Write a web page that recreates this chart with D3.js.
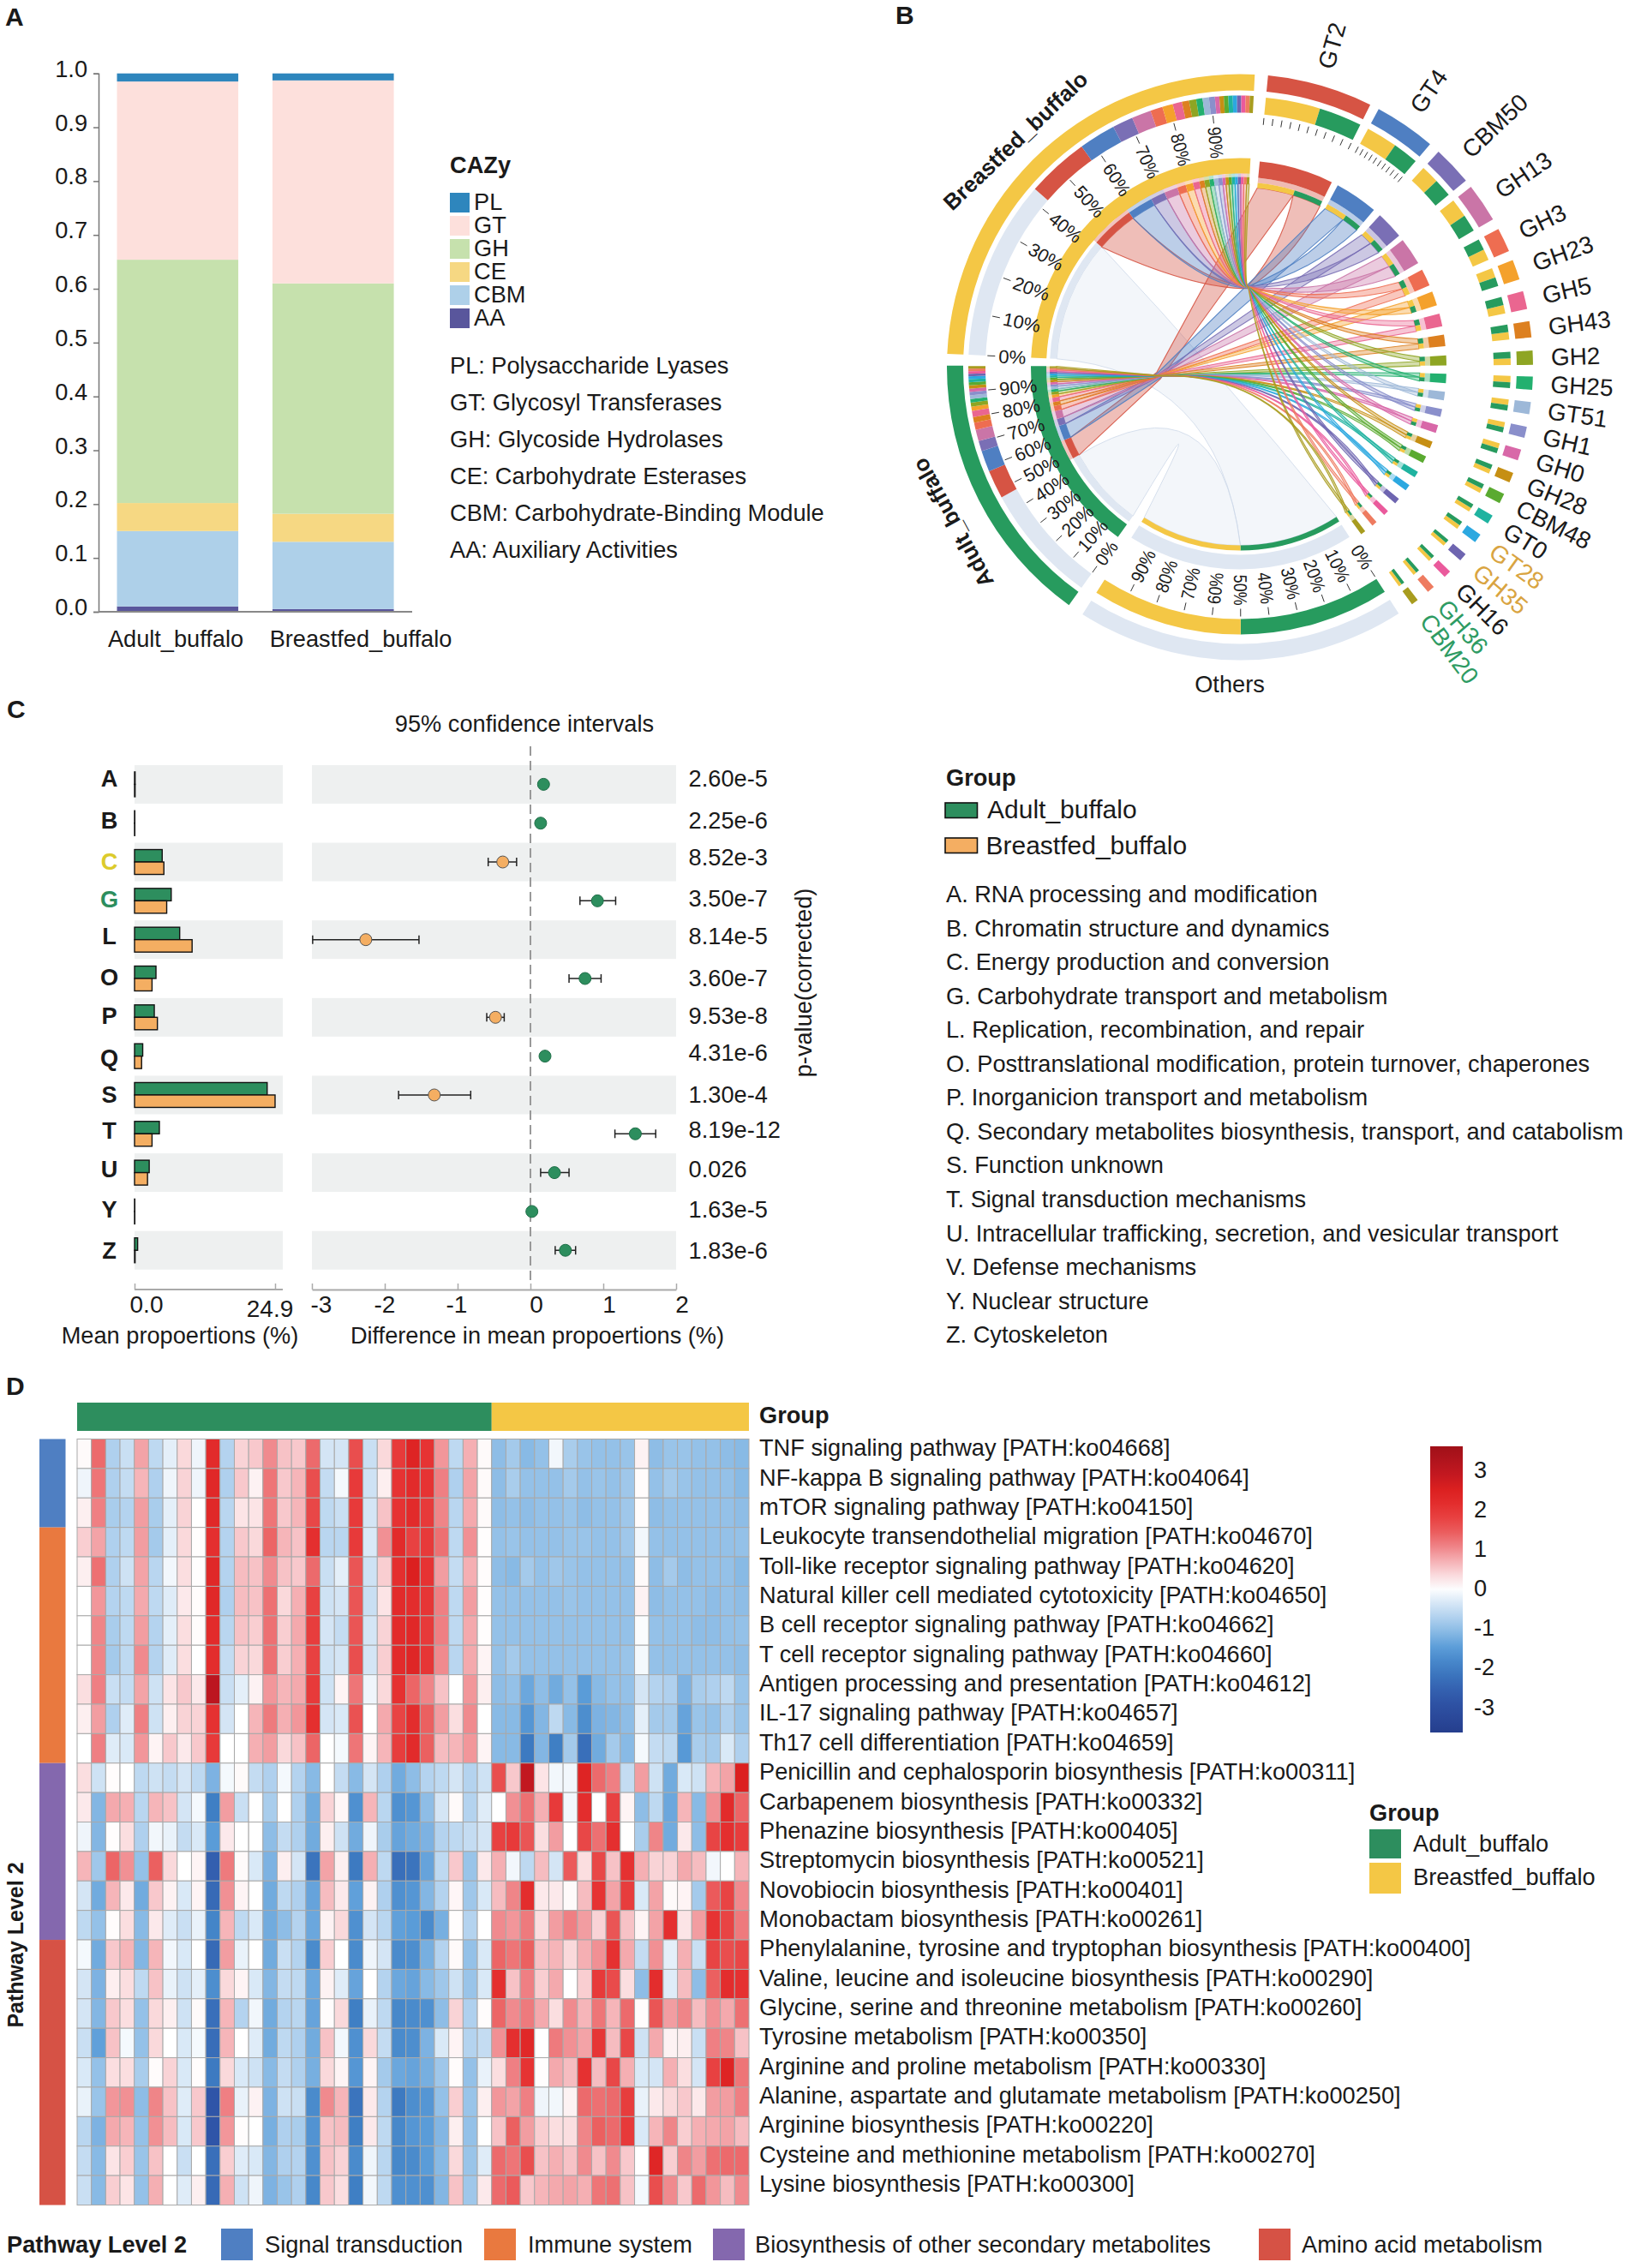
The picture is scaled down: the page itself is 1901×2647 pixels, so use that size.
<!DOCTYPE html>
<html><head><meta charset="utf-8">
<script src="https://cdn.jsdelivr.net/npm/d3@7"></script>
<style>
html,body{margin:0;padding:0;background:#fff}
svg{display:block}
text{font-family:"Liberation Sans",Arial,sans-serif;fill:#1a1a1a}
</style></head><body><svg id="c" width="1901" height="2647" viewBox="0 0 1901 2647"></svg>
<script>
// ---------- Panel A data
const stackGroups = ["Adult_buffalo","Breastfed_buffalo"];
const cazyClasses = ["AA","CBM","CE","GH","GT","PL"];
const cazyColours = ["#59569c","#aed0e9","#f6d883","#c6e1ad","#fde0dc","#2e86bd"];
const cazyAdult = [0.010,0.140,0.052,0.452,0.331,0.015];
const cazyBreastfed = [0.005,0.125,0.052,0.428,0.377,0.013];
const cazyLegend = ["PL","GT","GH","CE","CBM","AA"];
const cazyDefinitions = ["PL: Polysaccharide Lyases","GT: Glycosyl Transferases","GH: Glycoside Hydrolases","CE: Carbohydrate Esterases","CBM: Carbohydrate-Binding Module","AA: Auxiliary Activities"];
const yTicksA = [0,0.1,0.2,0.3,0.4,0.5,0.6,0.7,0.8,0.9,1.0];

// ---------- Panel B data
const genes = ["GT2","GT4","CBM50","GH13","GH3","GH23","GH5","GH43","GH2","GH25","GT51","GH1","GH0","GH28","CBM48","GT0","GT28","GH35","GH16","GH36","CBM20"];
const geneColours = ["#d65444","#4f7fc2","#7a6fb5","#ca75a7","#ee6d51","#f4a12c","#ea6690","#dd8020","#8ea523","#23b06f","#9db8d8","#8a8fcb","#d868a8","#c68f13","#5aaa30","#1fb3a0","#2ca8e0","#6e65b0","#ea5a9c","#ee7b60","#a89c1f"];
const geneSize = [20.9,12.2,7.8,7.7,4.8,4.0,3.6,3.2,2.8,2.6,2.4,2.2,2.2,2.0,2.0,1.8,1.8,1.6,1.5,1.5,1.4];
const geneGap  = [1.85,2.2,1.55,2.15,1.9,2.4,2.4,2.6,2.3,2.4,2.5,2.4,2.6,2.5,2.8,2.6,3.0,2.95,2.9,2.55];
const geneYellow = [.56,.55,.5,.52,.5,.52,.5,.5,.5,.52,.5,.5,.5,.5,.5,.5,.5,.5,.5,.5,.5];
const geneGreenFirst = ["GH3","GH5","GH43","GH2","GH28","CBM48","GT0","GT28","GH35","GH16","GH36","CBM20"];
const breastfedOthers = 42.5;
const breastfedShare = [14.8,8.7,4.9,4.6,2.9,2.5,2.2,1.7,1.7,1.5,1.5,1.4,1.05,1.05,1.05,1.05,1.0,1.0,1.0,1.0,0.9];
const adultOthers = 47;
const adultShare = [11.2,8.3,4.0,4.5,2.8,1.7,2.4,2.2,1.6,1.4,1.4,1.3,1.3,1.3,1.2,1.2,1.1,1.0,1.0,1.0,1.0];
const adultOrder = [0,1,2,3,4,7,6,5,8,9,10,11,12,13,14,15,16,17,18,19,20];
const percentTicks = [0,10,20,30,40,50,60,70,80,90];

// ---------- Panel C data
const cogLetters = ["A","B","C","G","L","O","P","Q","S","T","U","Y","Z"];
const meanAdult = [0.1,0.05,4.9,6.5,8.0,3.8,3.5,1.45,23.5,4.4,2.6,0.05,0.55];
const meanBreastfed = [0.1,0.05,5.2,5.7,10.2,3.1,4.05,1.25,24.9,3.1,2.3,0.05,0.1];
const diffValue = [0.18,0.14,-0.38,0.92,-2.26,0.75,-0.48,0.2,-1.32,1.44,0.33,0.02,0.48];
const diffLow = [0.18,0.14,-0.58,0.68,-2.99,0.53,-0.6,0.2,-1.81,1.16,0.14,0.02,0.34];
const diffHigh = [0.18,0.14,-0.19,1.17,-1.53,0.97,-0.36,0.2,-0.82,1.72,0.53,0.02,0.62];
const pValues = ["2.60e-5","2.25e-6","8.52e-3","3.50e-7","8.14e-5","3.60e-7","9.53e-8","4.31e-6","1.30e-4","8.19e-12","0.026","1.63e-5","1.83e-6"];
const pOffset = [-7,-3.5,-6,-3,-4.5,-1.5,-2,-5,-1,-5,-5,-3,0];
const letterOffset = [-7,-3.5,-1,-2.5,-4.5,-2.5,-2,1,-1,-4,-5,-3,-0.5];
const cogDescriptions = ["A. RNA processing and modification","B. Chromatin structure and dynamics","C. Energy production and conversion","G. Carbohydrate transport and metabolism","L. Replication, recombination, and repair","O. Posttranslational modification, protein turnover, chaperones","P. Inorganicion transport and metabolism","Q. Secondary metabolites biosynthesis, transport, and catabolism","S. Function unknown","T. Signal transduction mechanisms","U. Intracellular trafficking, secretion, and vesicular transport","V. Defense mechanisms","Y. Nuclear structure","Z. Cytoskeleton"];
const diffTicks = [-3,-2,-1,0,1,2];

// ---------- Panel D data
const pathways = ["TNF signaling pathway [PATH:ko04668]","NF-kappa B signaling pathway [PATH:ko04064]","mTOR signaling pathway [PATH:ko04150]","Leukocyte transendothelial migration [PATH:ko04670]","Toll-like receptor signaling pathway [PATH:ko04620]","Natural killer cell mediated cytotoxicity [PATH:ko04650]","B cell receptor signaling pathway [PATH:ko04662]","T cell receptor signaling pathway [PATH:ko04660]","Antigen processing and presentation [PATH:ko04612]","IL-17 signaling pathway [PATH:ko04657]","Th17 cell differentiation [PATH:ko04659]","Penicillin and cephalosporin biosynthesis [PATH:ko00311]","Carbapenem biosynthesis [PATH:ko00332]","Phenazine biosynthesis [PATH:ko00405]","Streptomycin biosynthesis [PATH:ko00521]","Novobiocin biosynthesis [PATH:ko00401]","Monobactam biosynthesis [PATH:ko00261]","Phenylalanine, tyrosine and tryptophan biosynthesis [PATH:ko00400]","Valine, leucine and isoleucine biosynthesis [PATH:ko00290]","Glycine, serine and threonine metabolism [PATH:ko00260]","Tyrosine metabolism [PATH:ko00350]","Arginine and proline metabolism [PATH:ko00330]","Alanine, aspartate and glutamate metabolism [PATH:ko00250]","Arginine biosynthesis [PATH:ko00220]","Cysteine and methionine metabolism [PATH:ko00270]","Lysine biosynthesis [PATH:ko00300]"];
const adultSamples = 29, breastfedSamples = 18;
const pathwayClasses = ["Signal transduction","Immune system","Biosynthesis of other secondary metabolites","Amino acid metabolism"];
const pathwayClassColours = ["#4f7fc2","#e9793f","#8468ae","#d65245"];
const pathwayClassCounts = [3,8,6,9];
const heatValues = [
[.05,1.3,-.75,-.5,.8,-.6,-.25,.35,-.15,2.2,-.7,.4,.5,1.0,.55,.5,1.3,-.4,-.4,1.6,-.5,.35,1.9,2.4,2.0,.9,-.6,.7,.05, -1.05,-.85,-1.1,-1.0,-.12,-.8,-.95,-1.0,-1.0,-.95,.12,-1.05,-.95,-.95,-1.0,-1.0,-1.05,-1.1],
[-.15,1.2,-.75,-.55,.65,-.75,-.15,.4,-.15,2.3,-.75,.5,.12,1.2,.5,.65,1.6,-.55,-.1,1.9,-.45,.15,2.0,2.2,2.0,1.1,-.75,.8,.05, -1.05,-.8,-1,-1,-1,-.85,-1,-.95,-1,-.9,.03,-1.0,-.85,-.95,-1,-1,-1,-1.1],
[.15,1.1,-.8,-.7,.85,-.8,-.25,.4,0,2.3,-.65,.25,.25,1.2,.5,.65,1.7,-.6,-.5,1.9,-.4,.55,2.0,2.2,1.9,1.05,-.65,.75,.05, -1.05,-1.0,-1.05,-1,-1,-.95,-1.05,-1,-1,-.9,.03,-1.05,-1,-1,-1,-1,-1,-1.05],
[.45,.8,-.75,-.6,.85,-.85,-.25,.35,.02,2.1,-.7,.5,.35,1.35,.65,.55,2.1,-.65,-.65,1.9,-.35,.95,2.2,1.8,1.9,1.25,-.6,.95,.02, -1,-.95,-1,-1,-1,-.95,-.95,-1,-1,-.9,-.12,-1,-1,-1,-1,-1,-1,-1],
[.15,1.25,-.75,-.45,.8,-.65,-.12,.3,.02,2.3,-.7,.6,.55,1.0,.55,.5,1.3,-.5,-.25,1.5,-.45,.45,2.1,2.5,2.0,.85,-.55,.7,.03, -1.05,-1.1,-.85,-1,-.9,-.95,-1,-1,-1,-1,.05,-1.05,-.85,-1.05,-1,-1,-1,-1.1],
[0,.9,-.7,-.6,.75,-.6,-.3,.2,.03,2.3,-.75,.6,.55,1.25,.35,.7,1.8,-.45,-.4,1.5,-.5,.25,2.2,2.15,1.95,1.1,-.6,.85,.02, -1,-1,-1,-1,-1,-.95,-1,-1,-1,-1,.12,-1.05,-1,-1,-1,-1.05,-1,-1.05],
[0,1.05,-.8,-.6,.85,-.7,-.25,.3,.03,2.2,-.65,.55,.45,1.25,.45,.75,1.85,-.4,-.55,1.5,-.4,.4,2.2,2.3,1.9,1.1,-.6,.75,.02, -1,-1,-1,-1,-1,-1,-1,-1,-1,-1,-.05,-1,-1,-1,-1.05,-1.05,-1,-1],
[0,1.05,-.85,-.6,1.0,-.7,-.3,.3,0,2.15,-.55,.4,.35,1.25,.45,.7,1.8,-.45,-.4,1.6,-.4,.45,2.2,2.35,1.95,1.0,-.65,.75,.1, -1,-.85,-1,-1,-1,-1,-1,-1,-1,-.95,-.1,-1,-1,-1,-1,-1,-1,-1.05],
[.3,1.1,-.5,-.55,.8,-.45,.25,.5,.2,3.0,-.5,-.25,.12,.9,.65,.75,1.9,-.45,.1,1.2,-.15,.35,2.05,1.35,1.05,.55,0,.9,.15, -1.05,-1,-1.35,-1.05,-1.3,-1,-1.5,-1.1,-1,-1,-.4,-.7,-.75,-1.2,-.8,-.75,-.6,-.95],
[.15,.85,-.75,-.3,1.1,-.45,.15,.4,.4,2.05,-.4,0,.65,1.15,.7,.9,2.1,-.4,-.35,1.55,0,.75,1.75,2.15,1.4,.85,.3,1.0,0, -1.1,-1.1,-1.6,-1.15,-.6,-1.1,-1.75,-1.2,-1.15,-1.05,-.25,-.85,-.85,-1.4,-.95,-1,-.75,-.95],
[0,1.1,-.3,-.35,.9,.1,.5,.2,.5,1.9,0,0,.7,.85,.35,.55,1.35,0,-.1,1.2,.1,.65,1.85,2.2,1.4,.6,.65,.9,.1, -1.1,-1.1,-2.1,-1.15,-2.0,-.85,-2.3,-1.3,-.85,-1.1,-.1,-.55,-.6,-1.55,-.8,-.85,-.35,-.75],
[.3,-.45,.03,0,-.6,-.45,-.55,-.4,-.6,-1.2,-.1,.05,-.55,-.75,-.1,-.7,-1.1,0,-.55,-1.1,-.4,-.75,-1.3,-1.05,-.7,-.6,-.4,-.7,-.45, 1.6,.5,2.9,.25,-.12,-.12,2.4,1.3,1.1,-.55,.85,-.45,-1.3,-.35,-.45,.65,.8,2.5],
[.2,-1.15,.75,.7,-.65,.65,.55,-.4,-.1,-2.0,.85,-.5,0,-.8,0,-.75,-1.3,.4,.08,-1.7,.65,-.65,-1.7,-1.6,-1.05,-.4,.05,-.7,-.3, 0,.95,1.25,.7,1.9,-.12,2.15,0,1.8,.1,-1.05,-.6,-1.35,.65,-1.1,.95,2.2,1.35],
[-.15,-1.15,.02,.3,-.75,-.12,-.2,-.55,-.35,-1.5,.2,0,0,-1.05,-.55,-.75,-1.3,.15,-.45,-1.3,-.15,-.8,-1.4,-1.3,-1.2,-.7,-.6,-.55,-.4, 1.8,1.9,1.5,.3,.85,0,1.7,1.25,2.1,0,-.8,1.05,-1.3,.2,-1.05,1.75,2.1,1.85],
[.65,-.9,1.35,.95,-1.0,1.4,.35,0,.1,-2.6,1.15,.05,-.35,-1.2,.15,-.4,-2.2,.8,.15,-2.1,.7,-.6,-2.3,-2.2,-1.4,-.6,.5,-.95,.2, .7,-.12,-.6,.6,-.4,1.45,.3,1.7,.55,2.05,.7,.4,.4,.75,.6,-.12,0,.65],
[-.4,-1.3,.65,.2,-1.3,.5,.12,-.35,.1,-2.4,.95,.1,0,-1.3,-.6,-.75,-1.4,.6,.2,-1.45,.12,-.75,-1.7,-1.6,-1.15,-.7,.08,-.9,-.35, .6,1.05,2.15,.2,.2,.05,.6,2.0,.8,1.85,-.35,.8,.05,.1,-.85,1.45,1.75,1.0],
[-.6,-1.0,.03,.3,-1.1,.2,-.3,-.5,-.2,-1.9,.65,-.6,-.35,-1.3,-1.05,-.7,-1.35,.12,.35,-1.7,-.4,-.65,-1.45,-1.5,-1.8,-1.25,.02,-.7,0, 1.0,.9,1.15,.3,.85,1.1,.85,.4,1.5,.55,.1,.8,2.1,.25,.85,2.0,1.75,1.15],
[-.1,-1.3,.5,.65,-1.15,.65,-.12,-.35,0,-2.4,.85,-.2,0,-1.3,-.5,-.7,-1.8,.45,0,-1.8,-.15,-.4,-1.8,-1.75,-1.25,-.7,.05,-1.0,-.35, 1.35,1.2,1.4,.55,.65,.35,.7,.95,2.05,.75,-.55,.95,-.25,.7,-.5,1.75,1.6,1.7],
[-.4,-1.2,.15,.3,-.6,.55,-.2,-.45,-.25,-1.75,.35,.1,-.35,-1.15,-.55,-.6,-1.35,.12,-.3,-1.4,0,-.7,-1.35,-1.4,-1.1,-.9,-.45,-.95,-.35, 2.1,.55,1.1,.45,.75,0,.45,1.9,1.65,.3,-1.05,2.15,-.3,.6,-1.05,1.4,2.15,2.05],
[-.4,-1.15,.5,.3,-1.0,.35,.15,-.45,.05,-2.3,.65,-.7,-.12,-1.3,-.7,-.65,-1.4,.03,.35,-2.0,-.2,-.6,-1.85,-1.8,-1.7,-1.05,.4,-.75,.03, 1.35,1,1.15,.75,.3,1.0,.65,1.2,.65,1.3,.03,1.5,.85,1.05,.6,.95,.75,1.25],
[-.5,-1.45,.55,-.1,-1.0,.35,0,-.35,-.1,-2.35,.65,0,-.3,-1.3,-.6,-.75,-1.3,.55,-.12,-1.7,.35,-.55,-1.8,-1.75,-1.2,-.35,.1,-.7,-.55, .95,2.1,2.3,0,1.15,.95,.8,1.95,.6,1.7,-.45,.75,.12,.15,-.5,1.1,1.05,.55],
[-.35,-1.0,.3,.3,-.8,.03,.4,-.35,.03,-2.1,.35,-.35,-.45,-1.1,-.55,-.75,-1.25,.35,.1,-1.6,.1,-.85,-1.35,-1.4,-1.25,-.9,.03,-1.0,-.2, .3,1.1,2.0,.02,.75,.6,2.05,.6,1.7,.7,-.35,-.4,.7,.3,-.4,1.8,2.4,1.2],
[-.2,-.95,.9,.95,-1.05,1.05,.55,-.3,.5,-2.8,1.1,-.2,.12,-1.2,-.45,-.5,-1.8,1.0,.65,-2.2,.2,-.7,-2.1,-1.75,-1.6,-1.0,.45,-.95,.15, .9,.8,1.1,-.15,-.12,.12,1.3,1.25,1.3,1.85,-.2,.2,.35,.5,.2,.85,.85,1.1],
[-.65,-1.2,.75,.65,-1.0,.95,.6,-.35,.5,-2.8,.9,.03,0,-1.25,-.75,-.8,-1.65,.55,.6,-2.0,.2,-.6,-1.85,-1.6,-1.5,-1.15,.15,-1.0,0, .55,1.4,.85,.45,.3,.3,1.05,1.4,1.3,1.9,-.35,.65,1.05,.45,.7,.75,.8,.6],
[-.55,-1.1,.25,.45,-.95,.55,0,-.5,0,-2.3,.45,-.3,-.35,-1.15,-.75,-.7,-1.7,.55,.4,-1.8,-.15,-.65,-1.85,-1.8,-1.5,-1.1,.35,-.95,-.3, 1.3,1.2,1.6,.55,.7,.55,1.0,.55,1.0,.5,0,2.35,.45,1.05,.85,1.25,1.3,1.3],
[-.5,-1.1,.45,.25,-1.0,.7,0,-.3,.15,-2.4,.7,-.45,-.15,-1.2,-.95,-.75,-1.85,.5,.3,-2.0,-.12,-.6,-1.7,-1.7,-1.7,-1.15,.55,-.9,.2, 1.3,1.45,.5,.65,.75,.8,.7,1.2,1.25,.55,-.1,1.6,1.0,.5,1.3,.9,.6,1.0]
];
const colourBarTicks = [3,2,1,0,-1,-2,-3];

const GREEN="#279b5e", YELLOW="#f4c745", PALE="#dfe7f2", DGREEN="#2d8e5e", ORANGE="#f4ae62", F=27.2;
const svg=d3.select("#c");
function txt(g,x,y,s,size,o={}){
  const t=g.append("text").attr("x",x).attr("y",y).attr("font-size",size).text(s);
  if(o.anchor)t.attr("text-anchor",o.anchor);
  if(o.bold)t.attr("font-weight","bold");
  if(o.fill)t.style("fill",o.fill);
  if(o.transform)t.attr("transform",o.transform);
  return t;
}
txt(svg,6,30,"A",30,{bold:true});
txt(svg,1045,28,"B",30,{bold:true});
txt(svg,8,838,"C",30,{bold:true});
txt(svg,7,1628,"D",30,{bold:true});

// ---------- Panel A
(function(){
  const g=svg.append("g");
  const y=d3.scaleLinear([0,1],[714,85.7]);
  const x=d3.scaleBand(stackGroups,[125,475]).paddingInner(0.28).paddingOuter(0.03);
  const rows=[cazyAdult,cazyBreastfed];
  const barX=[136.5,318];
  stackGroups.forEach((s,i)=>{
    let acc=0;
    cazyClasses.forEach((c,j)=>{
      const v=rows[i][j];
      g.append("rect").attr("x",barX[i]).attr("width",x.bandwidth()).attr("y",y(acc+v)).attr("height",y(acc)-y(acc+v)).attr("fill",cazyColours[j]);
      acc+=v;
    });
  });
  const ax=g.append("g").attr("transform","translate(115,0)").call(d3.axisLeft(y).tickValues(yTicksA).tickSize(6).tickFormat(""));
  ax.selectAll("line,path").attr("stroke","#777").attr("stroke-width",1.5);
  g.append("line").attr("x1",115).attr("x2",481).attr("y1",714).attr("y2",714).attr("stroke","#888").attr("stroke-width",2);
  yTicksA.forEach(v=>txt(g,102,y(v)+4,v.toFixed(1),F,{anchor:"end"}));
  txt(g,205,755,stackGroups[0],F,{anchor:"middle"});
  txt(g,421,755,stackGroups[1],F,{anchor:"middle"});
  txt(g,525,202,"CAZy",F,{bold:true});
  cazyLegend.forEach((c,i)=>{
    g.append("rect").attr("x",525).attr("y",225+27*i).attr("width",23).attr("height",23).attr("fill",cazyColours[cazyClasses.indexOf(c)]);
    txt(g,553,245+27*i,c,F);
  });
  cazyDefinitions.forEach((d,i)=>txt(g,525,436+i*42.9,d,F));
})();

// ---------- Panel B
(function(){
  const cx=1447, cy=428.5;
  const g=svg.append("g").attr("transform",`translate(${cx},${cy})`);
  const rad=d=>d*Math.PI/180;
  const pt=(a,r)=>[r*Math.sin(rad(a)),-r*Math.cos(rad(a))];
  const arc=(a0,a1,r0,r1,fill,op)=>g.append("path").attr("d",d3.arc()({startAngle:rad(a0),endAngle:rad(a1),innerRadius:r0,outerRadius:r1})).attr("fill",fill).attr("opacity",op==null?1:op);
  const R={outer:[323,342],mid:[297,317],ring:[226,244],tint:[222,226],strip:[214,222]};
  const bfA=d3.scaleLinear([0,100],[272.6,362.9]);
  const adA=d3.scaleLinear([0,100],[215.7,270.3]);
  const otA=d3.scaleLinear([0,100],[147.2,212.5]);
  const f=p=>p[0].toFixed(2)+","+p[1].toFixed(2);
  // angled text is a little narrower along its length the closer it is to vertical
  const squeeze=rot=>(0.83+0.2*Math.abs(Math.cos(rad(rot)))).toFixed(3);

  let cur=5.5;
  const gl=genes.map((n,i)=>{
    const a0=cur, a1=cur+geneSize[i]; cur=a1+(geneGap[i]||0);
    const gf=geneGreenFirst.includes(n), yw=geneSize[i]*geneYellow[i];
    const yellow=gf?[a1-yw,a1]:[a0,a0+yw];
    const green=gf?[a0,a1-yw]:[a0+yw,a1];
    return {n,i,a0,a1,yellow,green,col:geneColours[i]};
  });
  let acc=breastfedOthers;
  const bSpan=breastfedShare.map(v=>{const s=[acc,acc+v];acc+=v;return s;});
  acc=adultOthers; const aSpan=[];
  adultOrder.forEach(k=>{aSpan[k]=[acc,acc+adultShare[k]];acc+=adultShare[k];});

  function pale(aS,rS,aO,rO){
    const c=[-25,5];
    const p0=pt(aS[0],rS),p1=pt(aS[1],rS),q0=pt(aO[0],rO),q1=pt(aO[1],rO);
    const d=`M${f(p0)}Q${f(c)} ${f(q1)}A${rO} ${rO} 0 0 0 ${f(q0)}Q${f(c)} ${f(p1)}A${rS} ${rS} 0 0 0 ${f(p0)}Z`;
    g.append("path").attr("d",d).attr("fill",PALE).attr("fill-opacity",.38).attr("stroke","#cdd8e8").attr("stroke-width",1).attr("stroke-opacity",.8);
  }
  pale([bfA(0),bfA(breastfedOthers)],214,[otA(0),otA(50)],208);
  pale([adA(0),adA(adultOthers)],214,[otA(50),otA(100)],208);

  const pinchB=[9.7,-93.5], pinchA=[-95,10];
  const lerp=(a,b,t)=>[a[0]+(b[0]-a[0])*t,a[1]+(b[1]-a[1])*t];
  function ctlGB(G,P){
    const m=lerp(P,G,.5),dx=G[0]-P[0],dy=G[1]-P[1];
    return [m[0]-dy*.13,m[1]+dx*.13];
  }
  function ctlGA(G,P){
    const m=lerp(P,G,.5),k=Math.max(0,G[1]);
    return [m[0]+k*.28,m[1]-k*.5];
  }
  const ctlB=(P,T)=>[P[0]*.35,T[1]];
  const ctlA=(P,T)=>lerp(P,T,.55);
  function ribbon(aS,gS,pinch,share,dir,cS,cG,col){
    const rS=214,rG=210;
    const p0=pt(aS[0],rS),p1=pt(aS[1],rS),q0=pt(gS[0],rG),q1=pt(gS[1],rG);
    const t0=[pinch[0]+dir[0]*share,pinch[1]+dir[1]*share], t1=[pinch[0]-dir[0]*share,pinch[1]-dir[1]*share];
    const d=`M${f(p0)}Q${f(cS(p0,t0))} ${f(t0)}Q${f(cG(q1,t0))} ${f(q1)}A${rG} ${rG} 0 0 0 ${f(q0)}Q${f(cG(q0,t1))} ${f(t1)}Q${f(cS(p1,t1))} ${f(p1)}A${rS} ${rS} 0 0 0 ${f(p0)}Z`;
    g.append("path").attr("d",d).attr("fill",col).attr("fill-opacity",.38).attr("stroke",col).attr("stroke-width",1.1).attr("stroke-opacity",.9);
  }
  gl.forEach(o=>{
    ribbon([adA(aSpan[o.i][0]),adA(aSpan[o.i][1])],o.yellow,pinchA,adultShare[o.i],[.2,.33],ctlA,ctlGA,o.col);
    ribbon([bfA(bSpan[o.i][0]),bfA(bSpan[o.i][1])],o.green,pinchB,breastfedShare[o.i],[0,.12],ctlB,ctlGB,o.col);
  });

  function pctLabel(a,r,t,outward){
    const rot=outward?a-90:a+90;
    txt(g,0,0,t+"%",21.5,{anchor:outward?"end":"start",transform:`rotate(${a}) translate(0,${-r}) rotate(${outward?-90:90}) scale(${squeeze(rot)},1)`}).attr("dy",".36em");
  }
  function tick(a,r0,r1){
    const p0=pt(a,r0),p1=pt(a,r1);
    g.append("line").attr("x1",p0[0]).attr("y1",p0[1]).attr("x2",p1[0]).attr("y2",p1[1]).attr("stroke","#333").attr("stroke-width",1);
  }
  [[bfA,YELLOW,breastfedOthers,bSpan],[adA,GREEN,adultOthers,aSpan]].forEach(([s,col,oth,sp])=>{
    arc(s(0),s(100),R.outer[0],R.outer[1],col);
    arc(s(0),s(oth),R.mid[0],R.mid[1],PALE);
    arc(s(0),s(100),R.ring[0],R.ring[1],col);
    arc(s(0),s(oth),R.strip[0],R.strip[1],PALE);
    gl.forEach(o=>{
      arc(s(sp[o.i][0]),s(sp[o.i][1]),R.mid[0],R.mid[1],o.col);
      arc(s(sp[o.i][0]),s(sp[o.i][1]),R.tint[0],R.tint[1],o.col,.35);
      arc(s(sp[o.i][0]),s(sp[o.i][1]),R.strip[0],R.strip[1],o.col);
    });
    percentTicks.forEach(t=>{
      tick(s(t),295,286);
      pctLabel(s(t),282,t,false);
    });
  });
  arc(otA(0),otA(100),323,342,PALE);
  arc(otA(0),otA(50),294,312,GREEN);
  arc(otA(50),otA(100),294,312,YELLOW);
  arc(otA(0),otA(100),219,236,PALE);
  arc(otA(0),otA(50),208,214,GREEN);
  arc(otA(50),otA(100),208,214,YELLOW);
  percentTicks.forEach(t=>{
    const a=otA(t);
    tick(a,291,282);
    pctLabel(a,278,t,a<=180);
  });
  gl.forEach(o=>{
    arc(o.a0,o.a1,323,342,o.col);
    arc(o.yellow[0],o.yellow[1],296,316,YELLOW);
    arc(o.green[0],o.green[1],296,316,GREEN);
    arc(o.a0,o.a1,222,241,o.col);
    arc(o.a0,o.a1,216,222,o.col,.4);
    arc(o.yellow[0],o.yellow[1],210,216,YELLOW);
    arc(o.green[0],o.green[1],210,216,GREEN);
    if(o.i<2) d3.range(0,11).forEach(t=>tick(o.a0+(o.a1-o.a0)*t/10,292,284));
    const mid=(o.a0+o.a1)/2;
    const col=(o.n==="GT28"||o.n==="GH35")?"#d9a441":(o.n==="GH36"||o.n==="CBM20")?"#2e9b63":"#1a1a1a";
    txt(g,0,0,o.n,28,{fill:col,transform:`rotate(${mid}) translate(0,-363) rotate(-90)`}).attr("dy",".35em");
  });
  txt(svg,0,0,"Breastfed_buffalo",26,{bold:true,anchor:"middle",transform:"translate(1191.3,170.7) rotate(-43.6)"});
  txt(svg,0,0,"Adult_buffalo",26,{bold:true,anchor:"middle",transform:"translate(1120,605.8) rotate(241.1)"});
  txt(svg,1435,808,"Others",F,{anchor:"middle"});
})();

// ---------- Panel C
(function(){
  const g=svg.append("g");
  const rowStep=45.32, top=892.9, bandH=45;
  const rowY=i=>top+rowStep*i;
  const xM=d3.scaleLinear([0,24.9],[157,321]);
  const xD=d3.scaleLinear([-3,2],[364,789]);
  cogLetters.forEach((l,i)=>{
    if(i%2===0){
      g.append("rect").attr("x",157).attr("y",rowY(i)).attr("width",173).attr("height",bandH).attr("fill","#eef0f0");
      g.append("rect").attr("x",364).attr("y",rowY(i)).attr("width",425).attr("height",bandH).attr("fill","#eef0f0");
    }
  });
  g.append("line").attr("x1",xD(0)).attr("x2",xD(0)).attr("y1",871).attr("y2",1498).attr("stroke","#999").attr("stroke-width",2).attr("stroke-dasharray","11 6");
  cogLetters.forEach((l,i)=>{
    const c=rowY(i)+bandH/2;
    g.append("rect").attr("x",xM(0)).attr("y",c-14.5).attr("width",xM(meanAdult[i])-xM(0)).attr("height",14.5).attr("fill",DGREEN).attr("stroke","#111").attr("stroke-width",1.4);
    g.append("rect").attr("x",xM(0)).attr("y",c).attr("width",xM(meanBreastfed[i])-xM(0)).attr("height",14.5).attr("fill",ORANGE).attr("stroke","#111").attr("stroke-width",1.4);
    if(diffHigh[i]>diffLow[i]){
      g.append("line").attr("x1",xD(diffLow[i])).attr("x2",xD(diffHigh[i])).attr("y1",c).attr("y2",c).attr("stroke","#222").attr("stroke-width",1.5);
      [diffLow[i],diffHigh[i]].forEach(v=>g.append("line").attr("x1",xD(v)).attr("x2",xD(v)).attr("y1",c-5).attr("y2",c+5).attr("stroke","#222").attr("stroke-width",1.5));
    }
    g.append("circle").attr("cx",xD(diffValue[i])).attr("cy",c).attr("r",7).attr("fill",diffValue[i]>0?DGREEN:ORANGE).attr("stroke",diffValue[i]>0?"#1f6e48":"#555").attr("stroke-width",1);
    txt(g,127.5,c+letterOffset[i]+10,l,F,{bold:true,anchor:"middle",fill:l==="C"?"#dccb2c":l==="G"?DGREEN:"#1a1a1a"});
    txt(g,803.6,c+pOffset[i]+10,pValues[i],F);
  });
  const axL=g.append("g").attr("transform","translate(0,1505)").call(d3.axisBottom(xM).tickValues([0,24.9]).tickSizeInner(-7).tickSizeOuter(0).tickFormat(""));
  axL.select(".domain").attr("d","M157,0H330");
  const axR=g.append("g").attr("transform","translate(0,1505)").call(d3.axisBottom(xD).tickValues(diffTicks).tickSizeInner(-7).tickSizeOuter(0).tickFormat(""));
  g.selectAll("g .domain").attr("stroke","#aaa").attr("stroke-width",2);
  axL.selectAll(".tick line").attr("stroke","#aaa").attr("stroke-width",1.5);
  axR.selectAll(".tick line").attr("stroke","#aaa").attr("stroke-width",1.5);
  txt(g,171,1532,"0.0",28,{anchor:"middle"});
  txt(g,315,1537,"24.9",28,{anchor:"middle"});
  diffTicks.forEach(v=>txt(g,xD(v)+(v===-3?11:v===-2?0:v===-1?-1:7),1532,String(v),28,{anchor:"middle"}));
  txt(g,210,1568,"Mean propoertions (%)",F,{anchor:"middle"});
  txt(g,627,1568,"Difference in mean propoertions (%)",F,{anchor:"middle"});
  txt(g,612,853.5,"95% confidence intervals",F,{anchor:"middle"});
  txt(g,0,0,"p-value(corrected)",F,{anchor:"middle",transform:"translate(947,1147) rotate(-90)"});
  txt(g,1104,917,"Group",F,{bold:true});
  g.append("rect").attr("x",1103).attr("y",937).attr("width",37.5).attr("height",17.5).attr("fill",DGREEN).attr("stroke","#111").attr("stroke-width",1.6);
  g.append("rect").attr("x",1103).attr("y",978).attr("width",37.5).attr("height",17.5).attr("fill",ORANGE).attr("stroke","#111").attr("stroke-width",1.6);
  txt(g,1152,955,"Adult_buffalo",30);
  txt(g,1150.5,997,"Breastfed_buffalo",30);
  cogDescriptions.forEach((d,i)=>txt(g,1104,1053+39.55*i,d,F));
})();

// ---------- Panel D
(function(){
  const g=svg.append("g");
  const nCol=adultSamples+breastfedSamples;
  const x=d3.scaleBand(d3.range(nCol),[90,874]);
  const y=d3.scaleBand(d3.range(pathways.length),[1679.5,2573.5]);
  const colour=d3.scaleLinear()
    .domain([-3.6,-2.8,-2,-1.5,-1,-.5,0,.5,1,1.5,2,2.5,3,3.6])
    .range(["#263f8f","#2f55a8","#3f7fc4","#5a9cd8","#94c1e8","#c9dff3","#ffffff","#f8c8cc","#f08a8e","#ea5555","#e63333","#dc2020","#bc1620","#a01018"]);
  g.append("rect").attr("x",x(0)).attr("y",1637).attr("width",x.bandwidth()*adultSamples).attr("height",33).attr("fill",DGREEN);
  g.append("rect").attr("x",x(adultSamples)).attr("y",1637).attr("width",x.bandwidth()*breastfedSamples).attr("height",33).attr("fill",YELLOW);
  txt(g,886,1661,"Group",F,{bold:true});
  heatValues.forEach((row,r)=>row.forEach((v,c)=>{
    g.append("rect").attr("x",x(c)).attr("y",y(r)).attr("width",x.bandwidth()).attr("height",y.bandwidth()).attr("fill",colour(v)).attr("stroke","#a9a9a9").attr("stroke-width",1);
  }));
  let rr=0;
  pathwayClasses.forEach((c,i)=>{
    g.append("rect").attr("x",46).attr("y",y(rr)).attr("width",30.5).attr("height",y.bandwidth()*pathwayClassCounts[i]).attr("fill",pathwayClassColours[i]);
    rr+=pathwayClassCounts[i];
  });
  pathways.forEach((p,i)=>txt(g,886,1699.3+34.35*i,p,F));
  txt(g,0,0,"Pathway Level 2",25,{bold:true,anchor:"middle",transform:"translate(27,2270) rotate(-90)"});
  const barY=d3.scaleLinear([-3.65,3.6],[2022,1688]);
  const id="hmgrad";
  const lg=svg.append("defs").append("linearGradient").attr("id",id).attr("x1",0).attr("x2",0).attr("y1",1).attr("y2",0);
  d3.range(0,21).forEach(i=>{const v=-3.65+7.25*i/20;lg.append("stop").attr("offset",i/20).attr("stop-color",colour(v));});
  g.append("rect").attr("x",1669).attr("y",1688).attr("width",38).attr("height",334).attr("fill",`url(#${id})`);
  colourBarTicks.forEach(v=>txt(g,1720,barY(v)+9.5,String(v),F));
  txt(g,1598,2125,"Group",F,{bold:true});
  g.append("rect").attr("x",1598).attr("y",2135).attr("width",37).attr("height",34).attr("fill",DGREEN);
  g.append("rect").attr("x",1598).attr("y",2174).attr("width",37).attr("height",36).attr("fill",YELLOW);
  txt(g,1649,2161,stackGroups[0],F);
  txt(g,1649,2200,stackGroups[1],F);
  txt(g,8,2629,"Pathway Level 2",F,{bold:true});
  const lx=[258,565,832,1469];
  pathwayClasses.forEach((c,i)=>{
    g.append("rect").attr("x",lx[i]).attr("y",2601).attr("width",37).attr("height",37).attr("fill",pathwayClassColours[i]);
    txt(g,lx[i]+(i===2?49:i===3?50:51),2629,c,F);
  });
})();
</script></body></html>
